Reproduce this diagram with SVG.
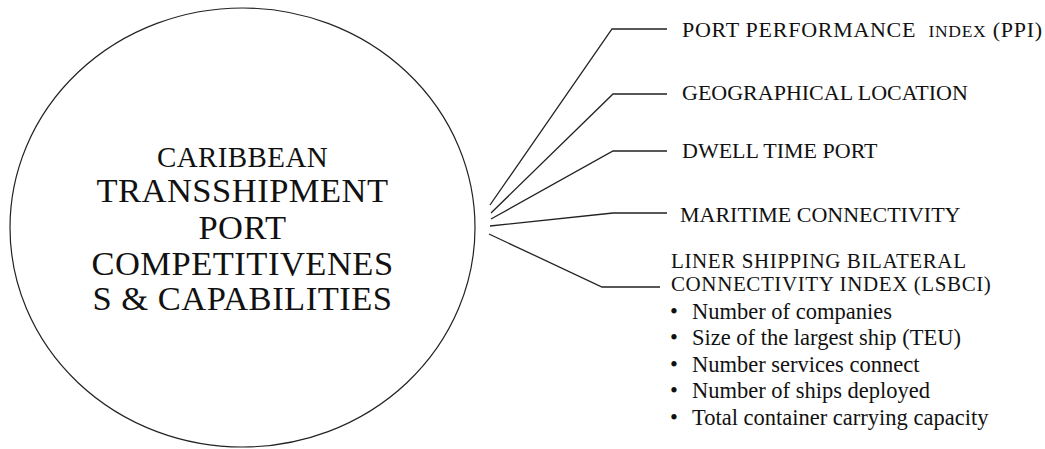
<svg xmlns="http://www.w3.org/2000/svg" width="1045" height="449" viewBox="0 0 1045 449">
<style>
text{font-family:"Liberation Serif","Times New Roman",serif;fill:#111}
.c{font-size:34.5px;text-anchor:middle;letter-spacing:0.5px}
.l{font-size:22px}
.m{font-size:21px;letter-spacing:0.6px}
.b{font-size:22.5px}
.con{fill:none;stroke:#222;stroke-width:1.3}
</style>
<rect width="1045" height="449" fill="#fff"/>
<g id="center">
<ellipse cx="242.5" cy="227.5" rx="232.5" ry="219.5" fill="#fff" stroke="#222" stroke-width="1.2"/>
<text class="c" x="242.5" y="167" style="font-size:29px;letter-spacing:0.4px">CARIBBEAN</text>
<text class="c" x="242.5" y="202">TRANSSHIPMENT</text>
<text class="c" x="242.5" y="239">PORT</text>
<text class="c" x="242.5" y="275">COMPETITIVENES</text>
<text class="c" x="242.5" y="310">S &amp; CAPABILITIES</text>
</g>
<g id="connectors">
<polyline class="con" points="490,205 612,29 667,29"/>
<polyline class="con" points="491,213 613,94 667,94"/>
<polyline class="con" points="491,219 613,151 667,151"/>
<polyline class="con" points="490,226 613,213 667,213"/>
<polyline class="con" points="489,234 602,287 660,287"/>
</g>
<g id="ppi">
<text class="l" x="682" y="37" textLength="360" lengthAdjust="spacing">PORT PERFORMANCE <tspan style="font-size:17.5px" dx="6">INDEX</tspan> (PPI)</text>
</g>
<g id="geo">
<text class="l" x="682" y="100">GEOGRAPHICAL LOCATION</text>
</g>
<g id="dwell">
<text class="l" x="682" y="158">DWELL TIME PORT</text>
</g>
<g id="maritime">
<text class="l" x="680" y="222">MARITIME CONNECTIVITY</text>
</g>
<g id="lsbci">
<text class="m" x="671" y="268">LINER SHIPPING BILATERAL</text>
<text class="m" x="671" y="291">CONNECTIVITY INDEX (LSBCI)</text>
<text class="b" x="670" y="319">•</text><text class="b" x="692" y="319">Number of companies</text>
<text class="b" x="670" y="345">•</text><text class="b" x="692" y="345">Size of the largest ship (TEU)</text>
<text class="b" x="670" y="372">•</text><text class="b" x="692" y="372">Number services connect</text>
<text class="b" x="670" y="398">•</text><text class="b" x="692" y="398">Number of ships deployed</text>
<text class="b" x="670" y="425">•</text><text class="b" x="692" y="425">Total container carrying capacity</text>
</g>
</svg>
